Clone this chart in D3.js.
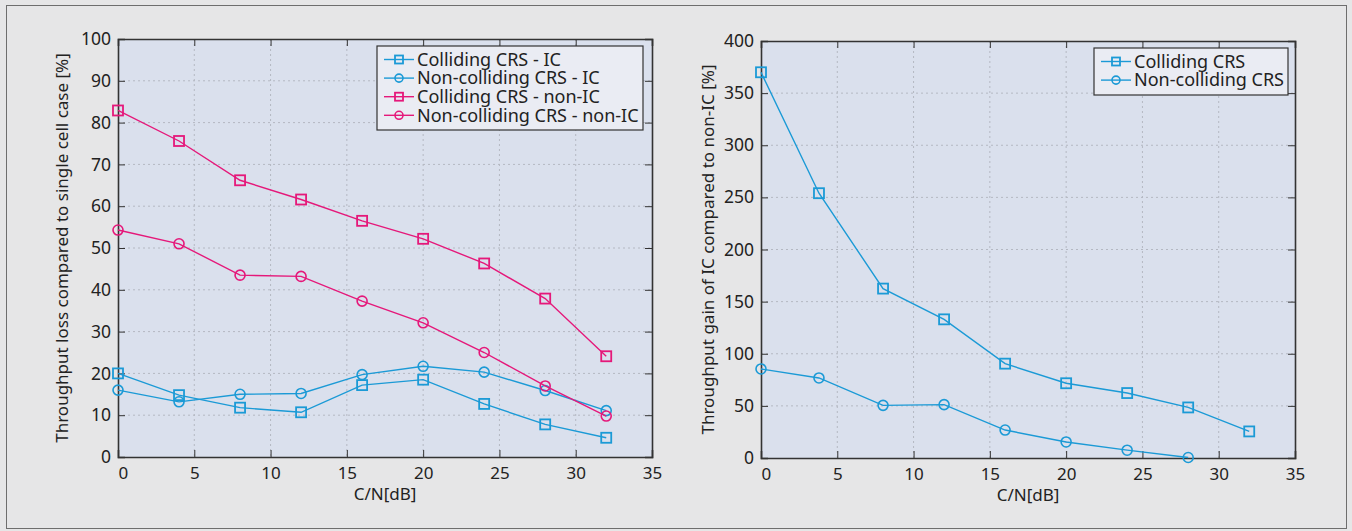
<!DOCTYPE html>
<html>
<head>
<meta charset="UTF-8">
<title>Throughput</title>
<style>
    body { margin: 0; background: #e6e6e7; }
    svg text { font-family: "Noto Sans", "Open Sans", sans-serif; fill: #222; }
    .grid line { stroke: #b4b8c2; stroke-dasharray: 2,3; }
    .ax path, .ax line { stroke: #333; }
</style>
</head>
<body>
<svg width="1352" height="531"></svg>
<script src="https://d3js.org/d3.v7.min.js"></script>
<script>

var xs = [0, 4, 8, 12, 16, 20, 24, 28, 32];
var xsRight = [0, 3.8, 8, 12, 16, 20, 24, 28, 32];
var xTicks = [0, 5, 10, 15, 20, 25, 30, 35];

// left chart: throughput loss [%]
var collIC = [20.0, 14.8, 11.8, 10.7, 17.2, 18.5, 12.7, 7.8, 4.6];
var nonCollIC = [16.0, 13.2, 15.0, 15.2, 19.7, 21.7, 20.3, 15.9, 11.1];
var collNonIC = [82.9, 75.6, 66.2, 61.6, 56.5, 52.2, 46.3, 37.9, 24.1];
var nonCollNonIC = [54.3, 51.0, 43.5, 43.2, 37.3, 32.1, 25.0, 17.0, 9.8];
var leftTicks = [0, 10, 20, 30, 40, 50, 60, 70, 80, 90, 100];

// right chart: throughput gain [%]
var gainColl = [370, 254, 162.5, 133, 90.5, 71.7, 62.3, 48.5, 25.5];
var gainNonColl = [85.4, 76.8, 50.5, 51.2, 26.8, 15.4, 7.5, 0.5];
var rightTicks = [0, 50, 100, 150, 200, 250, 300, 350, 400];

var blue = "#1b9ad6", pink = "#e5187a";

var svg = d3.select("svg");

svg.append("rect")
    .attr("x", 6.5).attr("y", 5.5)
    .attr("width", 1340).attr("height", 523)
    .attr("fill", "#e6e6e7").attr("stroke", "#6e6e6e");

function chart(opt) {
    var x = d3.scaleLinear().domain([0, 35]).range([opt.left, opt.right]);
    var y = d3.scaleLinear().domain(opt.ydomain).range([opt.bottom, opt.top]);
    var g = svg.append("g");

    g.append("rect")
        .attr("x", opt.left).attr("y", opt.top)
        .attr("width", opt.right - opt.left).attr("height", opt.bottom - opt.top)
        .attr("fill", "#dae0ed");

    // dotted grid
    var grid = g.append("g").attr("class", "grid");
    grid.selectAll(".gx").data(xTicks.slice(1, -1)).enter().append("line")
        .attr("x1", function (d) { return x(d); }).attr("x2", function (d) { return x(d); })
        .attr("y1", opt.top).attr("y2", opt.bottom);
    grid.selectAll(".gy").data(opt.yticks.slice(1, -1)).enter().append("line")
        .attr("y1", function (d) { return y(d); }).attr("y2", function (d) { return y(d); })
        .attr("x1", opt.left).attr("x2", opt.right);

    // axes with inside ticks on all four sides
    var bottom = g.append("g").attr("class", "ax")
        .attr("transform", "translate(0," + opt.bottom + ")")
        .call(d3.axisBottom(x).tickValues(xTicks).tickSize(-7).tickPadding(10));
    bottom.selectAll("text").style("font-size", "17px")
        .attr("text-anchor", function (d) { return d === 0 ? "start" : "middle"; });
    g.append("g").attr("class", "ax")
        .attr("transform", "translate(0," + opt.top + ")")
        .call(d3.axisTop(x).tickValues(xTicks).tickSize(-7).tickFormat(""));
    var left = g.append("g").attr("class", "ax")
        .attr("transform", "translate(" + opt.left + ",0)")
        .call(d3.axisLeft(y).tickValues(opt.yticks).tickSize(-7).tickPadding(7));
    left.selectAll("text").style("font-size", "17.5px");
    g.append("g").attr("class", "ax")
        .attr("transform", "translate(" + opt.right + ",0)")
        .call(d3.axisRight(y).tickValues(opt.yticks).tickSize(-7).tickFormat(""));
    g.selectAll(".ax .domain").attr("stroke-width", 1.6);

    // series
    opt.series.forEach(function (s) {
        var pts = s.values.map(function (v, i) { return [opt.xs[i], v]; });
        var line = d3.line()
            .x(function (d) { return x(d[0]); })
            .y(function (d) { return y(d[1]); });
        g.append("path").datum(pts)
            .attr("d", line)
            .attr("fill", "none").attr("stroke", s.color).attr("stroke-width", 1.4);
        drawMarkers(g, pts.map(function (d) { return [x(d[0]), y(d[1])]; }), s);
    });

    // legend
    var lg = g.append("g");
    lg.append("rect")
        .attr("x", opt.legend.x).attr("y", opt.legend.y)
        .attr("width", opt.legend.w).attr("height", opt.legend.h)
        .attr("fill", "#eaecf3").attr("stroke", "#333").attr("stroke-width", 1.2);
    opt.series.forEach(function (s, i) {
        var cy = opt.legend.y + 13.5 + i * 18.6;
        var lx = opt.legend.x + 7;
        lg.append("line")
            .attr("x1", lx).attr("x2", lx + 30).attr("y1", cy).attr("y2", cy)
            .attr("stroke", s.color).attr("stroke-width", 1.4);
        drawMarkers(lg, [[lx + 15, cy]], s, 0.8);
        lg.append("text")
            .attr("x", lx + 33).attr("y", cy).attr("dy", "0.35em")
            .style("font-size", "18px")
            .text(s.name);
    });

    // axis titles
    g.append("text")
        .attr("x", (opt.left + opt.right) / 2).attr("y", opt.bottom + 43)
        .attr("text-anchor", "middle").style("font-size", "17px")
        .text("C/N[dB]");
    g.append("text")
        .attr("transform", "translate(" + opt.titleX + "," + ((opt.top + opt.bottom) / 2) + ") rotate(-90)")
        .attr("text-anchor", "middle").style("font-size", "17px")
        .text(opt.ylabel);
}

function drawMarkers(g, pts, s, k) {
    k = k || 1;
    if (s.shape === "square") {
        g.selectAll(null).data(pts).enter().append("rect")
            .attr("x", function (d) { return d[0] - 5 * k; })
            .attr("y", function (d) { return d[1] - 5 * k; })
            .attr("width", 10 * k).attr("height", 10 * k)
            .attr("fill", "none").attr("stroke", s.color).attr("stroke-width", 1.8);
    } else {
        g.selectAll(null).data(pts).enter().append("circle")
            .attr("cx", function (d) { return d[0]; })
            .attr("cy", function (d) { return d[1]; })
            .attr("r", 5 * k)
            .attr("fill", "none").attr("stroke", s.color).attr("stroke-width", 1.6);
    }
}

chart({
    left: 118, right: 652, top: 39, bottom: 457, titleX: 68,
    ydomain: [0, 100], yticks: leftTicks, xs: xs,
    ylabel: "Throughput loss compared to single cell case [%]",
    legend: { x: 377, y: 46, w: 266, h: 84 },
    series: [
        { name: "Colliding CRS - IC", values: collIC, color: blue, shape: "square" },
        { name: "Non-colliding CRS - IC", values: nonCollIC, color: blue, shape: "circle" },
        { name: "Colliding CRS - non-IC", values: collNonIC, color: pink, shape: "square" },
        { name: "Non-colliding CRS - non-IC", values: nonCollNonIC, color: pink, shape: "circle" }
    ]
});

chart({
    left: 761, right: 1295, top: 41, bottom: 458, titleX: 714,
    ydomain: [0, 400], yticks: rightTicks, xs: xsRight,
    ylabel: "Throughput gain of IC compared to non-IC [%]",
    legend: { x: 1094, y: 48, w: 194, h: 47 },
    series: [
        { name: "Colliding CRS", values: gainColl, color: blue, shape: "square" },
        { name: "Non-colliding CRS", values: gainNonColl, color: blue, shape: "circle" }
    ]
});

</script>
</body>
</html>
